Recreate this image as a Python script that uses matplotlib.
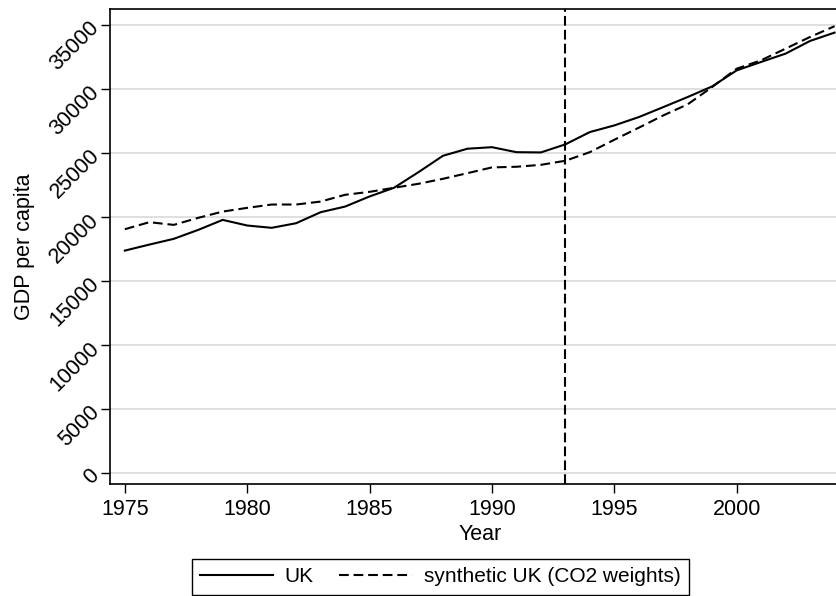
import matplotlib.pyplot as plt

years = list(range(1975, 2005))
uk = [17370, 17840, 18290, 18990, 19770, 19330, 19150, 19510, 20370, 20810,
      21600, 22280, 23500, 24780, 25330, 25450, 25060, 25040, 25670, 26630,
      27150, 27800, 28580, 29370, 30200, 31450, 32110, 32760, 33750, 34400]
synth = [19040, 19590, 19380, 19930, 20420, 20710, 20970, 20970, 21200, 21730,
         21960, 22280, 22590, 22980, 23420, 23870, 23920, 24070, 24390, 25060,
         26030, 26970, 27930, 28800, 30150, 31580, 32240, 33150, 34060, 34900]
treat_year = 1993
yticks = list(range(0, 35001, 5000))
xticks = [1975, 1980, 1985, 1990, 1995, 2000]

plt.rcParams['font.family'] = ['Liberation Sans', 'DejaVu Sans']
plt.rcParams['lines.scale_dashes'] = False

fig = plt.figure(figsize=(8.37, 5.96), dpi=100)
ax = fig.add_axes([0.1316, 0.188, 0.8684, 0.797])

for y in yticks:
    ax.axhline(y, color='#dcdcdc', lw=1.3, zorder=0)

ax.plot(years, uk, color='black', lw=1.5, label='UK')
ax.plot(years, synth, color='black', lw=1.5, dashes=[7, 3.5],
        label='synthetic UK (CO2 weights)')
ax.axvline(treat_year, color='black', lw=1.5, dashes=[7, 3])

ax.set_xlim(1974.4, 2004.1)
ax.set_ylim(-860, 36250)
ax.set_xticks(xticks)
ax.set_yticks(yticks)
ax.tick_params(direction='out', length=6.5, width=1, labelsize=15.5, color='black')
ax.tick_params(axis='x', pad=4)
for lab in ax.get_yticklabels():
    lab.set_rotation(45)
    lab.set_ha('right')
    lab.set_va('center')
    lab.set_rotation_mode('anchor')

for s in ax.spines.values():
    s.set_linewidth(1.2)

ax.set_xlabel('Year', fontsize=15.5)
ax.set_ylabel('GDP per capita', fontsize=15.5)
ax.xaxis.set_label_coords(0.509, -0.084)
ax.yaxis.set_label_coords(-0.104, 0.5)

fig.legend(loc='upper center', bbox_to_anchor=(0.526, 0.062), ncol=2,
           fontsize=15, frameon=True, fancybox=False, edgecolor='black',
           framealpha=1, handlelength=3.5, handletextpad=0.55,
           columnspacing=1.25, borderpad=0.4, borderaxespad=0)
fig.legends[0].get_frame().set_linewidth(1)

fig.savefig('out.png', dpi=100)
